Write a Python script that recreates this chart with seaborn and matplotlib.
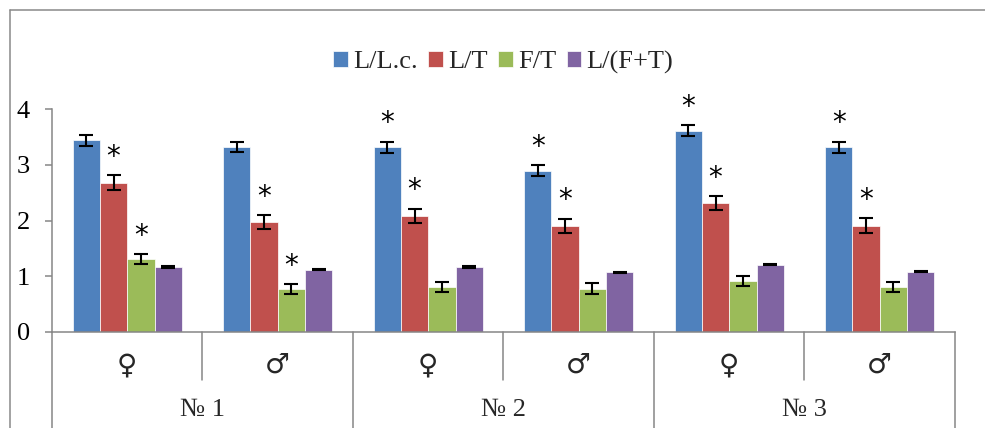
import numpy as np
import pandas as pd
import matplotlib
matplotlib.use("Agg")
import matplotlib.pyplot as plt
from matplotlib.lines import Line2D
import seaborn as sns

# ---------------- data ----------------
groups = ["№ 1", "№ 2", "№ 3"]
sexes = ["♀", "♂"]
series = ["L/L.c.", "L/T", "F/T", "L/(F+T)"]
colors = ["#4F81BD", "#C0504D", "#9BBB59", "#8064A2"]

# category order: №1♀, №1♂, №2♀, №2♂, №3♀, №3♂
v_llc = [3.44, 3.32, 3.31, 2.89, 3.61, 3.31]
v_lt = [2.68, 1.97, 2.08, 1.90, 2.31, 1.91]
v_ft = [1.31, 0.77, 0.81, 0.78, 0.91, 0.81]
v_lft = [1.17, 1.12, 1.16, 1.07, 1.21, 1.08]

e_llc = [0.10, 0.095, 0.10, 0.10, 0.10, 0.10]
e_lt = [0.13, 0.13, 0.13, 0.13, 0.13, 0.13]
e_ft = [0.09, 0.09, 0.09, 0.09, 0.09, 0.09]
e_lft = [0.02, 0.015, 0.015, 0.01, 0.01, 0.01]

sig_llc = [0, 0, 1, 1, 1, 1]
sig_lt = [1, 1, 1, 1, 1, 1]
sig_ft = [1, 1, 0, 0, 0, 0]
sig_lft = [0, 0, 0, 0, 0, 0]

y_ticks = [0, 1, 2, 3, 4]

values = [v_llc, v_lt, v_ft, v_lft]
errors = [e_llc, e_lt, e_ft, e_lft]
sigs = [sig_llc, sig_lt, sig_ft, sig_lft]

cats = [f"{g} {s}" for g in groups for s in sexes]
rows = []
for si, name in enumerate(series):
    for ci, c in enumerate(cats):
        rows.append({"cat": c, "series": name, "value": values[si][ci]})
df = pd.DataFrame(rows)

# ---------------- style ----------------
sns.set_theme(style="white")
plt.rcParams["font.family"] = ["Liberation Serif", "DejaVu Sans"]
plt.rcParams["font.size"] = 19

fig = plt.figure(figsize=(9.85, 4.28), dpi=100)
ax = fig.add_axes([52 / 985, 1 - 332 / 428, 903 / 985, 223 / 428])

sns.barplot(data=df, x="cat", y="value", hue="series", order=cats,
            hue_order=series, palette=colors, saturation=1, width=0.727,
            errorbar=None, edgecolor="white", linewidth=0.5, ax=ax)

bar_containers = list(ax.containers)

# error bars and significance marks
for si, cont in enumerate(bar_containers):
    bars = [b for b in cont if b is not None]
    xs = [b.get_x() + b.get_width() / 2 for b in bars]
    ys = [b.get_height() for b in bars]
    ax.errorbar(xs, ys, yerr=errors[si], fmt="none", ecolor="black",
                elinewidth=1.5, capsize=5, capthick=1.5, zorder=5)
    for x, y, e, s in zip(xs, ys, errors[si], sigs[si]):
        if s:
            ax.text(x, y + e + 0.33, "*", ha="center", va="center",
                    fontsize=20, color="black",
                    family=["DejaVu Sans"])

ax.set_ylim(0, 4)
ax.set_xlim(-0.5, len(cats) - 0.5)
ax.set_yticks(y_ticks)
ax.set_yticklabels([str(t) for t in y_ticks])
ax.set_xticks([])
ax.set_xlabel("")
ax.set_ylabel("")
for side in ["top", "right"]:
    ax.spines[side].set_visible(False)
for side in ["left", "bottom"]:
    ax.spines[side].set_color("#868686")
    ax.spines[side].set_linewidth(1.1)
ax.tick_params(axis="y", which="both", left=True, length=5, width=1.1,
               color="#868686", pad=11, labelsize=19, labelcolor="black")

# two-level category axis
trans = ax.get_xaxis_transform()
for xb in [-0.5, 1.5, 3.5, 5.5]:
    ax.add_line(Line2D([xb, xb], [0, -0.5], transform=trans, color="#868686",
                       lw=1.1, clip_on=False))
for xb in [0.5, 2.5, 4.5]:
    ax.add_line(Line2D([xb, xb], [0, -0.215], transform=trans, color="#868686",
                       lw=1.1, clip_on=False))
for ci, c in enumerate(cats):
    ax.text(ci, -0.148, sexes[ci % 2], transform=trans, ha="center",
            va="center", fontsize=20, family=["DejaVu Sans"])
for gi, g in enumerate(groups):
    ax.text(gi * 2 + 0.5, -0.35, g, transform=trans, ha="center",
            va="center", fontsize=19)

# legend
handles, labels = ax.get_legend_handles_labels()
if ax.legend_ is not None:
    ax.legend_.remove()
fig.legend(handles, labels, loc="center", bbox_to_anchor=(0.511, 1 - 62 / 428),
           ncol=4, frameon=False, fontsize=19, handlelength=0.55,
           handleheight=0.55, handletextpad=0.2, columnspacing=0.4)

# chart area frame (partially visible)
fx = 10 / 985
fy = 1 - 10 / 428
fig.add_artist(Line2D([fx, fx], [0, fy], transform=fig.transFigure,
                      color="#898989", lw=1.1))
fig.add_artist(Line2D([fx, 1], [fy, fy], transform=fig.transFigure,
                      color="#898989", lw=1.1))

fig.savefig("out.png", dpi=100)
